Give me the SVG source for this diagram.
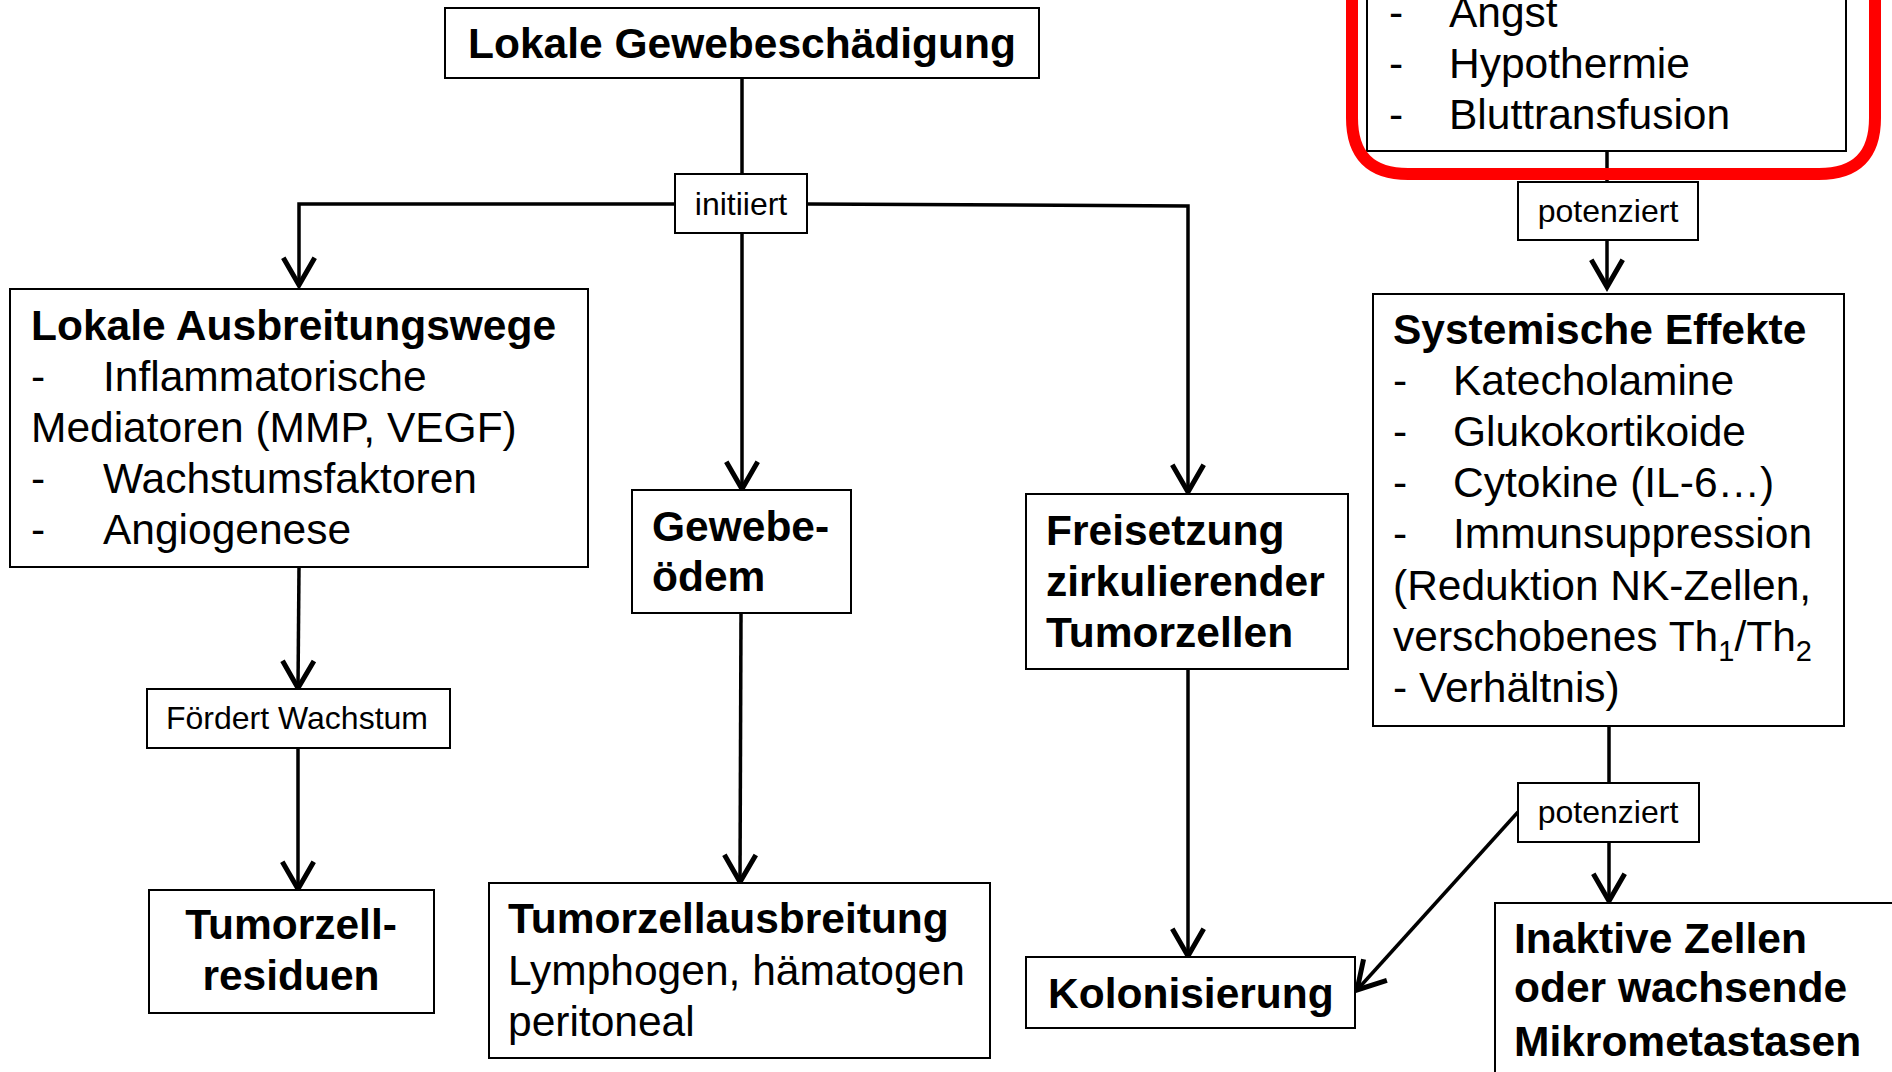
<svg xmlns="http://www.w3.org/2000/svg" width="1892" height="1072" viewBox="0 0 1892 1072">
<defs>
<style>
.box{fill:#fff;stroke:#000;stroke-width:2}
.t{font-family:"Liberation Sans",Arial,sans-serif;font-size:42.5px;fill:#000}
.b{font-weight:bold}
.lbl{font-family:"Liberation Sans",Arial,sans-serif;font-size:32px;fill:#000;text-anchor:middle}
.c{fill:none;stroke:#000;stroke-width:3.5}
.m{text-anchor:middle}
</style>
<marker id="ah" markerUnits="userSpaceOnUse" orient="auto" markerWidth="40" markerHeight="40" refX="0" refY="0" viewBox="-22 -14 26 28">
<path d="M-19,-11 L0,0 L-19,11" fill="none" stroke="#000" stroke-width="3.5"/>
</marker>
</defs>
<rect width="1892" height="1072" fill="#fff"/>

<g id="connectors">
<line class="c" x1="742" y1="78" x2="742" y2="175"/>
<polyline class="c" points="675,204 299,204 299,285" marker-end="url(#ah)"/>
<line class="c" x1="742" y1="233" x2="742" y2="489" marker-end="url(#ah)"/>
<polyline class="c" points="807,204 1188,206 1188,492" marker-end="url(#ah)"/>
<line class="c" x1="299" y1="567" x2="298" y2="688" marker-end="url(#ah)"/>
<line class="c" x1="298" y1="748" x2="298" y2="889" marker-end="url(#ah)"/>
<line class="c" x1="741" y1="614" x2="740" y2="882" marker-end="url(#ah)"/>
<line class="c" x1="1188" y1="669" x2="1188" y2="956" marker-end="url(#ah)"/>
<line class="c" x1="1607" y1="143" x2="1607" y2="182"/>
<line class="c" x1="1607" y1="240" x2="1607" y2="287" marker-end="url(#ah)"/>
<line class="c" x1="1609" y1="726" x2="1609" y2="783"/>
<line class="c" x1="1609" y1="842" x2="1609" y2="901" marker-end="url(#ah)"/>
<line class="c" x1="1518" y1="812" x2="1357" y2="990" marker-end="url(#ah)"/>
</g>

<g id="n-top">
<rect class="box" x="445" y="8" width="594" height="70"/>
<text class="t b m" x="742" y="58">Lokale Gewebeschädigung</text>
</g>

<g id="l-initiiert">
<rect class="box" x="675" y="174" width="132" height="59"/>
<text class="lbl" x="741" y="215">initiiert</text>
</g>

<g id="n-ausbreitungswege">
<rect class="box" x="10" y="289" width="578" height="278"/>
<text class="t b" x="31" y="340">Lokale Ausbreitungswege</text>
<text class="t" x="31" y="391">-</text>
<text class="t" x="103" y="391">Inflammatorische</text>
<text class="t" x="31" y="442">Mediatoren (MMP, VEGF)</text>
<text class="t" x="31" y="493">-</text>
<text class="t" x="103" y="493">Wachstumsfaktoren</text>
<text class="t" x="31" y="544">-</text>
<text class="t" x="103" y="544">Angiogenese</text>
</g>

<g id="n-oedem">
<rect class="box" x="632" y="490" width="219" height="123"/>
<text class="t b" x="652" y="541">Gewebe-</text>
<text class="t b" x="652" y="591">ödem</text>
</g>

<g id="n-freisetzung">
<rect class="box" x="1026" y="494" width="322" height="175"/>
<text class="t b" x="1046" y="545">Freisetzung</text>
<text class="t b" x="1046" y="596">zirkulierender</text>
<text class="t b" x="1046" y="647">Tumorzellen</text>
</g>

<g id="n-risk">
<rect class="box" x="1367" y="-20" width="479" height="171"/>
<text class="t" x="1389" y="27">-</text>
<text class="t" x="1449" y="27">Angst</text>
<text class="t" x="1389" y="78">-</text>
<text class="t" x="1449" y="78">Hypothermie</text>
<text class="t" x="1389" y="129">-</text>
<text class="t" x="1449" y="129">Bluttransfusion</text>
</g>

<path id="red-frame" d="M1352,-10 L1352,118 Q1352,174 1408,174 L1819,174 Q1875,174 1875,118 L1875,-10" fill="none" stroke="#ff0000" stroke-width="12"/>

<g id="l-potenziert-1">
<rect class="box" x="1518" y="182" width="180" height="58"/>
<text class="lbl" x="1608" y="222">potenziert</text>
</g>

<g id="n-systemisch">
<rect class="box" x="1373" y="294" width="471" height="432"/>
<text class="t b" x="1393" y="344">Systemische Effekte</text>
<text class="t" x="1393" y="395">-</text>
<text class="t" x="1453" y="395">Katecholamine</text>
<text class="t" x="1393" y="446">-</text>
<text class="t" x="1453" y="446">Glukokortikoide</text>
<text class="t" x="1393" y="497">-</text>
<text class="t" x="1453" y="497">Cytokine (IL-6…)</text>
<text class="t" x="1393" y="548">-</text>
<text class="t" x="1453" y="548">Immunsuppression</text>
<text class="t" x="1393" y="600">(Reduktion NK-Zellen,</text>
<text class="t" x="1393" y="651">verschobenes Th<tspan font-size="29" dy="10">1</tspan><tspan dy="-10">/Th</tspan><tspan font-size="29" dy="10">2</tspan></text>
<text class="t" x="1393" y="702">- Verhältnis)</text>
</g>

<g id="l-foerdert">
<rect class="box" x="147" y="689" width="303" height="59"/>
<text class="lbl" x="297" y="729">Fördert Wachstum</text>
</g>

<g id="l-potenziert-2">
<rect class="box" x="1518" y="783" width="181" height="59"/>
<text class="lbl" x="1608" y="823">potenziert</text>
</g>

<g id="n-residuen">
<rect class="box" x="149" y="890" width="285" height="123"/>
<text class="t b m" x="291" y="939">Tumorzell-</text>
<text class="t b m" x="291" y="990">residuen</text>
</g>

<g id="n-tumorzellausbreitung">
<rect class="box" x="489" y="883" width="501" height="175"/>
<text class="t b" x="508" y="933">Tumorzellausbreitung</text>
<text class="t" x="508" y="985">Lymphogen, hämatogen</text>
<text class="t" x="508" y="1036">peritoneal</text>
</g>

<g id="n-kolonisierung">
<rect class="box" x="1026" y="957" width="329" height="71"/>
<text class="t b" x="1048" y="1008">Kolonisierung</text>
</g>

<g id="n-inaktiv">
<rect class="box" x="1495" y="903" width="420" height="200"/>
<text class="t b" x="1514" y="953">Inaktive Zellen</text>
<text class="t b" x="1514" y="1002">oder wachsende</text>
<text class="t b" x="1514" y="1056">Mikrometastasen</text>
</g>
</svg>
